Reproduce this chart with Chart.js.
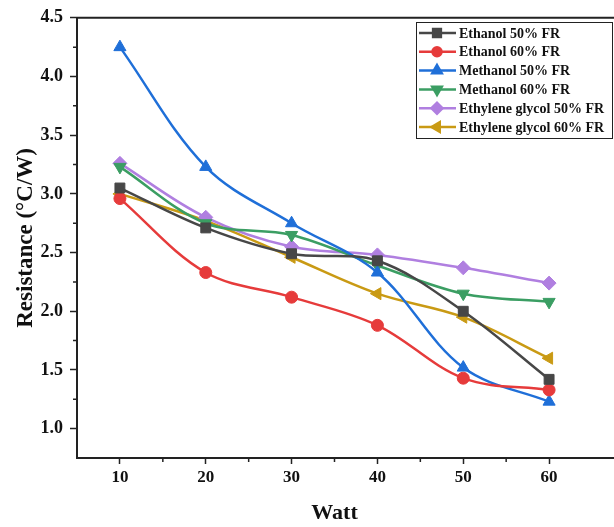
<!DOCTYPE html>
<html>
<head>
<meta charset="utf-8">
<script src="https://cdn.jsdelivr.net/npm/chart.js@4"></script>
<style>
  body { margin: 0; background: #fff; }
  canvas { display: block; }
</style>
</head>
<body>
<canvas id="myChart" width="614" height="527"></canvas>
<script>
const watts = [10, 20, 30, 40, 50, 60];
const xTicks = [10, 15, 20, 25, 30, 35, 40, 45, 50, 55, 60];
const yTicks = [1.0, 1.25, 1.5, 1.75, 2.0, 2.25, 2.5, 2.75, 3.0, 3.25, 3.5, 3.75, 4.0, 4.25, 4.5];

const ethanol50 = [3.05, 2.71, 2.49, 2.43, 2.00, 1.42];
const ethanol60 = [2.96, 2.33, 2.12, 1.88, 1.43, 1.33];
const methanol50 = [4.25, 3.23, 2.75, 2.33, 1.52, 1.23];
const methanol60 = [3.23, 2.75, 2.65, 2.39, 2.15, 2.08];
const glycol50 = [3.26, 2.80, 2.55, 2.48, 2.37, 2.24];
const glycol60 = [3.00, 2.77, 2.46, 2.15, 1.95, 1.60];

const ctx = document.getElementById('myChart');
const serif = "'Liberation Serif', 'Times New Roman', serif";
const axisColor = '#222';

function series(label, values, color, style, rotation, radius) {
    return {
        label: label,
        data: values.map((v, i) => ({ x: watts[i], y: v })),
        borderColor: color,
        backgroundColor: color,
        borderWidth: 2.5,
        pointStyle: style,
        pointRotation: rotation,
        pointRadius: radius,
        pointBorderWidth: 1,
        tension: 0.35
    };
}

// legend with line + marker, in a box
const boxLegend = {
    id: 'boxLegend',
    afterDraw(chart) {
        const c = chart.ctx;
        const x0 = 416, y0 = 22, w = 196, h = 116, row = 18.8;
        c.save();
        c.fillStyle = '#fff';
        c.fillRect(x0, y0, w, h);
        c.strokeStyle = '#222';
        c.lineWidth = 1;
        c.strokeRect(x0 + 0.5, y0 + 0.5, w, h);
        c.font = "bold 14px " + serif;
        c.textBaseline = 'middle';
        chart.data.datasets.forEach((ds, i) => {
            const y = y0 + 11 + i * row;
            c.strokeStyle = ds.borderColor;
            c.lineWidth = 2.5;
            c.beginPath();
            c.moveTo(x0 + 3, y);
            c.lineTo(x0 + 40, y);
            c.stroke();
            c.fillStyle = ds.backgroundColor;
            Chart.helpers.drawPoint(c, {
                pointStyle: ds.pointStyle,
                rotation: ds.pointRotation,
                radius: ds.pointRadius - 1.5,
                borderWidth: 1
            }, x0 + 21, y);
            c.fillStyle = '#111';
            c.fillText(ds.label, x0 + 43, y + 1);
        });
        c.restore();
    }
};

// frame line on top, axis extension to the right edge, short minor ticks
const frame = {
    id: 'frame',
    afterDraw(chart) {
        const a = chart.chartArea;
        const c = chart.ctx;
        const xs = chart.scales.x, ys = chart.scales.y;
        c.save();
        c.strokeStyle = axisColor;
        c.lineWidth = 2;
        c.beginPath();
        c.moveTo(a.left - 1, a.top);
        c.lineTo(chart.width, a.top);
        c.moveTo(a.right, a.bottom);
        c.lineTo(chart.width, a.bottom);
        c.stroke();
        c.lineWidth = 1.5;
        c.beginPath();
        xTicks.filter(v => v % 10 !== 0).forEach(v => {
            const px = xs.getPixelForValue(v);
            c.moveTo(px, a.bottom);
            c.lineTo(px, a.bottom + 4);
        });
        yTicks.filter(v => Math.round(v * 100) % 50 !== 0).forEach(v => {
            const py = ys.getPixelForValue(v);
            c.moveTo(a.left, py);
            c.lineTo(a.left - 4, py);
        });
        c.stroke();
        c.restore();
    }
};

new Chart(ctx, {
    type: 'line',
    data: {
        datasets: [
            series('Ethanol 50% FR', ethanol50, '#474747', 'rect', 0, 7),
            series('Ethanol 60% FR', ethanol60, '#e63b3b', 'circle', 0, 6),
            series('Methanol 50% FR', methanol50, '#1f6fd8', 'triangle', 0, 7),
            series('Methanol 60% FR', methanol60, '#3b9e63', 'triangle', 180, 7),
            series('Ethylene glycol 50% FR', glycol50, '#b07fe0', 'rectRot', 0, 7),
            series('Ethylene glycol 60% FR', glycol60, '#c99a14', 'triangle', -90, 7)
        ]
    },
    options: {
        responsive: false,
        animation: false,
        clip: false,
        layout: { padding: { top: 17, right: 22, left: 0, bottom: 0 } },
        plugins: {
            legend: { display: false },
            tooltip: { enabled: false }
        },
        scales: {
            x: {
                type: 'linear',
                min: 5,
                max: 65,
                afterBuildTicks: s => { s.ticks = xTicks.map(v => ({ value: v })); },
                afterFit: s => { s.height = 69; },
                border: { color: axisColor, width: 2 },
                grid: {
                    drawOnChartArea: false,
                    tickLength: 6,
                    tickWidth: 1.5,
                    tickColor: c => (c.tick && c.tick.value % 10 === 0) ? axisColor : 'rgba(0,0,0,0)'
                },
                ticks: {
                    color: '#111',
                    padding: 3,
                    autoSkip: false,
                    maxRotation: 0,
                    font: { family: serif, size: 17, weight: 'bold' },
                    callback: v => (v % 10 === 0 ? String(v) : '')
                },
                title: {
                    display: true,
                    text: 'Watt',
                    color: '#111',
                    font: { family: serif, size: 22, weight: 'bold' },
                    padding: { top: 0, bottom: 0 }
                }
            },
            y: {
                min: 0.75,
                max: 4.5,
                afterBuildTicks: s => { s.ticks = yTicks.map(v => ({ value: v })); },
                afterFit: s => { s.width = 77; },
                border: { color: axisColor, width: 2 },
                grid: {
                    drawOnChartArea: false,
                    tickLength: 7,
                    tickWidth: 1.5,
                    tickColor: c => (c.tick && Math.round(c.tick.value * 100) % 50 === 0) ? axisColor : 'rgba(0,0,0,0)'
                },
                ticks: {
                    color: '#111',
                    padding: 7,
                    autoSkip: false,
                    font: { family: serif, size: 18, weight: 'bold' },
                    callback: v => (Math.round(v * 100) % 50 === 0 ? v.toFixed(1) : '')
                },
                title: {
                    display: true,
                    text: 'Resistance (°C/W)',
                    color: '#111',
                    font: { family: serif, size: 23, weight: 'bold' },
                    padding: { top: 12, bottom: 0 }
                }
            }
        }
    },
    plugins: [frame, boxLegend]
});
</script>
</body>
</html>
